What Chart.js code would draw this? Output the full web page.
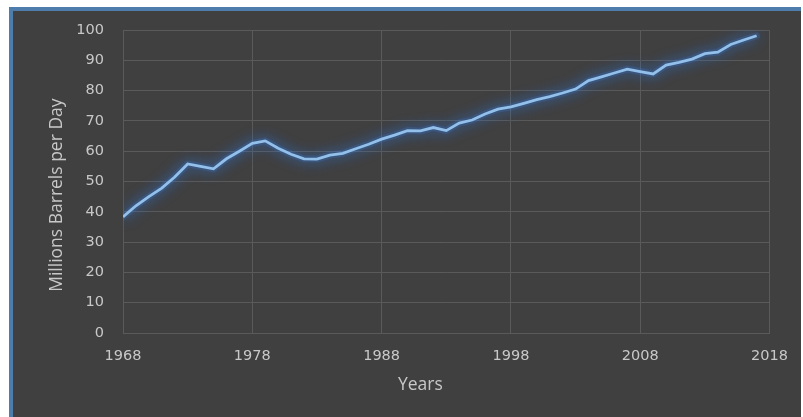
<!DOCTYPE html>
<html>
<head>
<meta charset="utf-8">
<title>World oil consumption</title>
<script src="https://cdn.jsdelivr.net/npm/chart.js@4.4.0/dist/chart.umd.min.js"></script>
<style>
  body { margin: 0; background: #fff; }
  #frame {
    position: absolute; left: 9px; top: 7px; width: 788px; height: 406px;
    background: #404040;
    border-left: 4px solid #4f7dab; border-top: 4px solid #4f7dab;
  }
  #wrap { position: absolute; left: 0; top: 0; width: 803px; height: 417px; }
</style>
</head>
<body>
<div id="frame"></div>
<div id="wrap"><canvas id="oil-chart"></canvas></div>
<script>
// world oil consumption, millions of barrels per day
const years = [1968, 1969, 1970, 1971, 1972, 1973, 1974, 1975, 1976, 1977,
  1978, 1979, 1980, 1981, 1982, 1983, 1984, 1985, 1986, 1987,
  1988, 1989, 1990, 1991, 1992, 1993, 1994, 1995, 1996, 1997,
  1998, 1999, 2000, 2001, 2002, 2003, 2004, 2005, 2006, 2007,
  2008, 2009, 2010, 2011, 2012, 2013, 2014, 2015, 2016, 2017];
const barrels = [38.3, 42, 45, 47.8, 51.5, 55.8, 55, 54.2, 57.5, 60,
  62.6, 63.4, 61, 59, 57.5, 57.4, 58.7, 59.3, 60.8, 62.3,
  64, 65.3, 66.8, 66.7, 67.8, 66.8, 69.3, 70.3, 72.3, 73.9,
  74.6, 75.8, 77, 78, 79.2, 80.5, 83.3, 84.5, 85.8, 87.1,
  86.3, 85.5, 88.4, 89.3, 90.4, 92.2, 92.7, 95.2, 96.7, 98.1];
const yearTicks = [1968, 2018, 10];   // min, max, step
const valueTicks = [0, 100, 10];
const xTitle = 'Years';
const yTitle = 'Millions Barrels per Day';

const gridColor = '#5a5a5a';
const textColor = '#c8c8c8';
const titleFont = '17.5px "Open Sans"';

const points = years.map((y, i) => ({ x: y, y: barrels[i] }));

// soft blue glow round the line
const glow = {
  id: 'glow',
  beforeDatasetDraw(chart) {
    const c = chart.ctx;
    c.save();
    c.shadowColor = 'rgba(50,120,225,0.95)';
    c.shadowBlur = 14;
  },
  afterDatasetDraw(chart) {
    chart.ctx.restore();
  }
};

// axis titles, a bit off centre like the original
const axisTitles = {
  id: 'axisTitles',
  afterDraw(chart) {
    const c = chart.ctx, a = chart.chartArea;
    c.save();
    c.fillStyle = textColor;
    c.font = titleFont;
    c.textAlign = 'center';
    c.textBaseline = 'middle';
    c.fillText(xTitle, a.left + (a.right - a.left) * 0.46, a.bottom + 52);
    c.translate(a.left - 66, a.top + (a.bottom - a.top) * 0.545);
    c.rotate(-Math.PI / 2);
    c.fillText(yTitle, 0, 0);
    c.restore();
  }
};

const ctx = document.getElementById('oil-chart').getContext('2d');
new Chart(ctx, {
  type: 'line',
  data: {
    datasets: [{
      label: yTitle,
      data: points,
      borderColor: '#92c0ea',
      borderWidth: 2.8,
      pointRadius: 0,
      tension: 0,
      order: 0
    }, {
      // wide faint copy under the line for the halo
      label: 'halo',
      data: points,
      borderColor: 'rgba(60,125,220,0.22)',
      borderWidth: 7,
      borderJoinStyle: 'round',
      borderCapStyle: 'round',
      pointRadius: 0,
      tension: 0,
      order: 1
    }]
  },
  options: {
    responsive: true,
    maintainAspectRatio: false,
    animation: false,
    layout: { padding: { top: 30, right: 33, bottom: 0, left: 0 } },
    plugins: { legend: { display: false }, tooltip: { enabled: false } },
    scales: {
      x: {
        type: 'linear',
        min: yearTicks[0], max: yearTicks[1],
        ticks: {
          stepSize: yearTicks[2], color: textColor, padding: 15,
          font: { family: 'DejaVu Sans', size: 14.5 },
          callback: v => String(v)
        },
        grid: { color: gridColor, drawTicks: false },
        border: { color: gridColor },
        afterFit(s) { s.height = 84; }
      },
      y: {
        min: valueTicks[0], max: valueTicks[1],
        ticks: {
          stepSize: valueTicks[2], color: textColor, padding: 19,
          font: { family: 'DejaVu Sans', size: 14.5 }
        },
        grid: { color: gridColor, drawTicks: false },
        border: { color: gridColor },
        afterFit(s) { s.width = 123; }
      }
    }
  },
  plugins: [glow, axisTitles]
});
</script>
</body>
</html>
